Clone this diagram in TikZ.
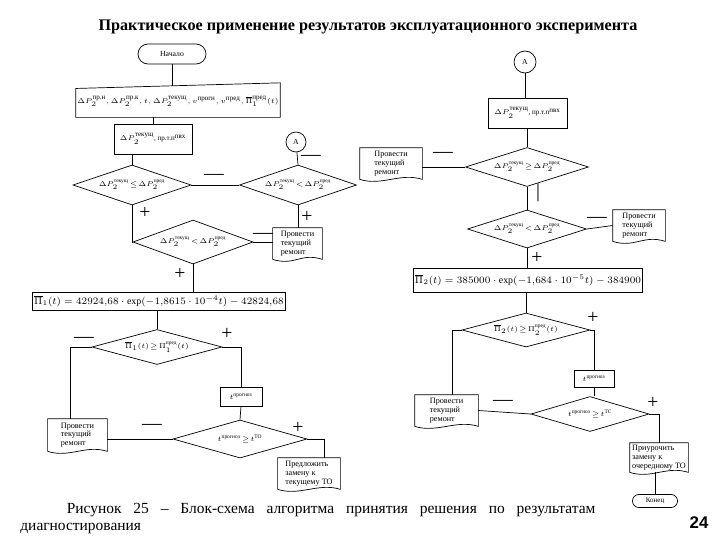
\documentclass[tikz,border=0pt]{standalone}
\usepackage{amsmath}
\usepackage{fontspec}
\setmainfont{Liberation Serif}
\newfontfamily\pagefont{Liberation Sans}
\usetikzlibrary{shapes.geometric,positioning}

% document outline (wavy bottom) round a named node
\newcommand{\docframe}[1]{%
  \draw (#1.south west) -- (#1.north west) -- (#1.north east) -- (#1.south east)
    .. controls +(-22,-7) and +(22,7) .. (#1.south west);}

\begin{document}
\begin{tikzpicture}[x=0.025cm, y=-0.025cm, line width=0.5pt,
    txt/.style={font=\fontsize{5.5}{6.5}\selectfont, inner sep=1pt},
    box/.style={txt, draw, rectangle},
    dia/.style={txt, draw, diamond, aspect=3.2, inner sep=0pt},
    docu/.style={font=\fontsize{5.8}{6.2}\selectfont, align=left, inner sep=1.5pt},
    term/.style={txt, draw, rectangle},
    conn/.style={txt, draw, circle, inner sep=0pt},
    sgn/.style={font=\fontsize{14}{14}\selectfont, inner sep=0pt},
    wh/.style 2 args={minimum width=#1, minimum height=#2}]

  \fill[white] (0,0) rectangle (720,540);
  \useasboundingbox (0,0) rectangle (720,540);

  % Title
  \node[font=\fontsize{11.5}{13}\selectfont\bfseries] (title) at (368,27)
    {Практическое применение результатов эксплуатационного эксперимента};

  % Left chart: nodes
  \node[term, rounded corners=0.25cm, wh={1.7cm}{0.5cm}] (start) at (172,54) {Начало};
  \node[txt, font=\fontsize{5}{6}\selectfont, wh={4.75cm}{0.775cm}] (in1) at (178,101.5)
    {$\Delta P_2^{\text{пр.н}}, \Delta P_2^{\text{пр.к}}, t, \Delta P_2^{\text{текущ}}, v^{\text{прогн}}, v^{\text{пред}}, \overline{\Pi}_1^{\text{пред}}(t)$};
  \node[box, font=\fontsize{5}{6}\selectfont, wh={1.95cm}{0.75cm}] (p1) at (153,139)
    {$\Delta P_2^{\text{текущ}}$, пр.т.п$^{\text{пвх}}$};
  \node[dia, wh={2.95cm}{1.0cm}] (d1) at (132,185)
    {$\Delta P_2^{\text{текущ}}\!\leq\!\Delta P_2^{\text{пред}}$};
  \node[dia, wh={2.925cm}{1.0cm}] (d2) at (298,185)
    {$\Delta P_2^{\text{текущ}}\!<\!\Delta P_2^{\text{пред}}$};
  \node[conn, minimum size=0.5cm] (a1) at (296,142) {А};
  \node[docu, wh={1.225cm}{0.775cm}] (doc1) at (297.5,243.5) {Провести\\текущий\\ремонт};
  \node[dia, wh={3.0cm}{1.1cm}] (d3) at (193,242)
    {$\Delta P_2^{\text{текущ}}\!<\!\Delta P_2^{\text{пред}}$};
  \node[box, wh={5.55cm}{0.45cm}, font=\fontsize{7}{8}\selectfont] (f1) at (159,301)
    {$\overline{\Pi}_1(t)=42924{,}68\cdot\exp(-1{,}8615\cdot10^{-4}t)-42824{,}68$};
  \node[dia, wh={3.25cm}{0.875cm}] (d4) at (157,347)
    {$\overline{\Pi}_1(t)\!\geq\!\Pi_1^{\text{пред}}(t)$};
  \node[box, wh={1.05cm}{0.475cm}] (tp1) at (241,396.5) {$t^{\text{прогноз}}$};
  \node[dia, wh={3.35cm}{0.95cm}] (d5) at (240,439)
    {$t^{\text{прогноз}}\!\geq\!t^{\text{ТО}}$};
  \node[docu, wh={1.475cm}{0.8cm}] (doc2) at (77.5,435) {Провести\\текущий\\ремонт};
  \node[docu, wh={1.55cm}{0.775cm}] (doc3) at (309,473.5) {Предложить\\замену к\\текущему ТО};

  % Left chart: outlines
  \draw ([yshift=-2pt]in1.north west) -- ([yshift=2pt]in1.north east)
    -- (in1.south east) -- (in1.south west) -- cycle;
  \docframe{doc1}
  \docframe{doc2}
  \docframe{doc3}

  % Left chart: connectors
  \draw (start) -- (in1.north -| start);
  \draw (in1.south -| p1.north) -- (p1.north);
  \draw (p1.south -| d1.north) -- (d1.north);
  \draw (d1.east) -- (d2.west);
  \draw (a1) -- (d2.north);
  \draw (d2.south) -- (d2.south |- doc1.north);
  \draw (d1.south) -- (d1.south |- d3.west) -- (d3.west);
  \draw (d3.east) -- (d3.east -| doc1.west);
  \draw (d3.south) -- (d3.south |- f1.north);
  \draw (f1.south -| d4.north) -- (d4.north);
  \draw (d4.west) -| ([xshift=-5pt]doc2.north);
  \draw (d4.east) -| (tp1.north);
  \draw (tp1.south) -- (d5.north);
  \draw (d5.west) -- (d5.west -| doc2.east);
  \draw (d5.east) -| ([xshift=11pt]doc3.north);

  % Left chart: branch signs
  \node[sgn] (s1) at (214,177) {—};
  \node[sgn] (s2) at (311,158) {—};
  \node[sgn] (s3) at (307,217) {+};
  \node[sgn] (s4) at (145,213) {+};
  \node[sgn] (s5) at (263,236) {—};
  \node[sgn] (s6) at (180,274) {+};
  \node[sgn] (s7) at (84,340) {—};
  \node[sgn] (s8) at (227,334) {+};
  \node[sgn] (s9) at (152,427) {—};
  \node[sgn] (s10) at (298,428) {+};

  % Right chart: nodes
  \node[conn, minimum size=0.55cm] (a2) at (525,62) {А};
  \node[box, font=\fontsize{5}{6}\selectfont, wh={1.975cm}{0.75cm}] (p2) at (527.5,113)
    {$\Delta P_2^{\text{текущ}}$, пр.т.п$^{\text{пвх}}$};
  \node[dia, wh={3.075cm}{0.975cm}] (d6) at (527,167)
    {$\Delta P_2^{\text{текущ}}\!\geq\!\Delta P_2^{\text{пред}}$};
  \node[docu, wh={1.55cm}{0.775cm}] (doc4) at (391,163.5) {Провести\\текущий\\ремонт};
  \node[dia, wh={2.975cm}{0.95cm}] (d7) at (527,229)
    {$\Delta P_2^{\text{текущ}}\!<\!\Delta P_2^{\text{пред}}$};
  \node[docu, wh={1.3cm}{0.775cm}] (doc5) at (639,225.5) {Провести\\текущий\\ремонт};
  \node[box, wh={5.0cm}{0.6cm}, font=\fontsize{7}{8}\selectfont] (f2) at (528,280)
    {$\overline{\Pi}_2(t)=385000\cdot\exp(-1{,}684\cdot10^{-5}t)-384900$};
  \node[dia, wh={3.2cm}{0.85cm}] (d8) at (526,330)
    {$\overline{\Pi}_2(t)\!\geq\!\Pi_2^{\text{пред}}(t)$};
  \node[box, wh={1.0cm}{0.425cm}] (tp2) at (594,378.5) {$t^{\text{прогноз}}$};
  \node[dia, wh={2.95cm}{0.875cm}] (d9) at (590,414)
    {$t^{\text{прогноз}}\!\geq\!t^{\text{ТС}}$};
  \node[docu, wh={1.575cm}{0.775cm}] (doc6) at (446.5,410.5) {Провести\\текущий\\ремонт};
  \node[docu, wh={1.45cm}{0.725cm}] (doc7) at (659,457.5) {Приурочить\\замену к\\очередному ТО};
  \node[term, rounded corners=0.16cm, wh={1.125cm}{0.325cm}, font=\fontsize{5}{6}\selectfont] (end) at (655,501) {Конец};

  % Right chart: outlines
  \docframe{doc4}
  \docframe{doc5}
  \docframe{doc6}
  \docframe{doc7}

  % Right chart: connectors
  \draw (a2) -- (a2 |- p2.north);
  \draw (p2.south -| d6.north) -- (d6.north);
  \draw (d6.west) -- (d6.west -| doc4.east);
  \draw (d6.south) -- (d7.north);
  \draw (d7.east) -- (doc5.west);
  \draw (d7.south) -- (d7.south |- f2.north);
  \draw (f2.south -| d8.north) -- (d8.north);
  \draw (d8.west) -| ([xshift=4pt]doc6.north);
  \draw (d8.east) -| (tp2.north);
  \draw (tp2.south) -- (tp2.south |- d9.north);
  \draw (d9.west) -- (doc6.east);
  \draw (d9.east) -| (doc7.north);
  \draw (end) -- (end |- doc7.south);

  % Right chart: branch signs
  \node[sgn] (s11) at (443,155) {—};
  \node[sgn] (s12) at (538,193) {|};
  \node[sgn] (s13) at (597,220) {—};
  \node[sgn] (s14) at (537,258) {+};
  \node[sgn] (s15) at (593,318) {+};
  \node[sgn] (s16) at (503,403) {—};
  \node[sgn] (s17) at (653,403) {+};

  % Caption and page number
  \node[anchor=north west, inner sep=0pt, text width=14.375cm, align=justify,
        font=\fontsize{11}{11.8}\selectfont] (cap) at (20,503)
    {\hspace*{33pt}Рисунок 25 -- Блок-схема алгоритма принятия решения по результатам\linebreak
     диагностирования};
  \node[font=\pagefont\fontsize{12}{14}\selectfont\bfseries] (pg) at (699,523) {24};
\end{tikzpicture}
\end{document}
